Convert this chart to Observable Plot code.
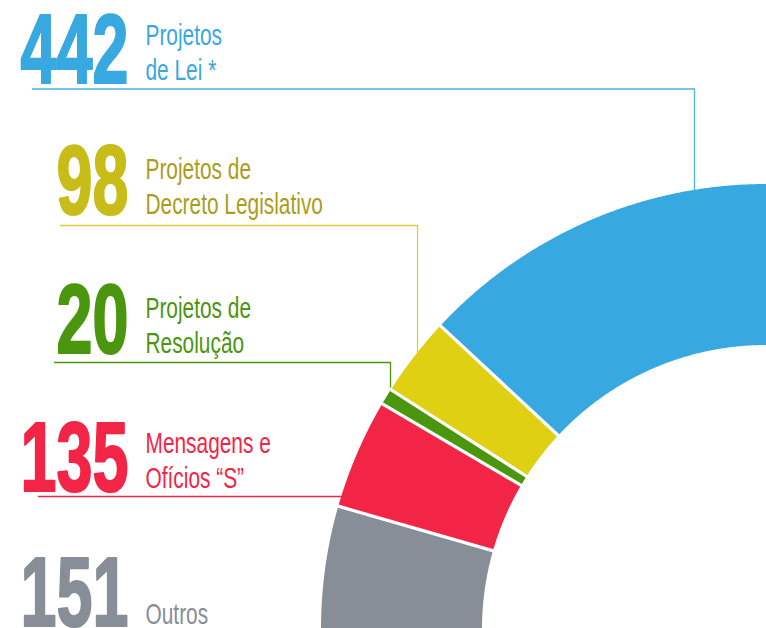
<!DOCTYPE html>
<html>
<head>
<meta charset="utf-8">
<script src="https://cdn.jsdelivr.net/npm/d3@7"></script>
<script src="https://cdn.jsdelivr.net/npm/@observablehq/plot@0.6"></script>
<style>
  html, body { margin: 0; padding: 0; background: #ffffff; }
  #chart svg { display: block; }
</style>
</head>
<body>
<div id="chart"></div>
<script>
// ---------- data ----------
const categories = ["Projetos de Lei", "Projetos de Decreto Legislativo", "Projetos de Resolução", "Mensagens e Ofícios “S”", "Outros"];
const values = [442, 98, 20, 135, 151];
const labelLine1 = ["Projetos", "Projetos de", "Projetos de", "Mensagens e", ""];
const labelLine2 = ["de Lei *", "Decreto Legislativo", "Resolução", "Ofícios “S”", "Outros"];

// ---------- styles ----------
const segmentColors = ["#37a8e0", "#e0d014", "#4b960f", "#f32547", "#878e97"];
const numberColors  = ["#38a8e0", "#c8bc18", "#4b960f", "#f32547", "#878e97"];
const textColors    = ["#38a8e0", "#ab9d1c", "#4b960f", "#f32547", "#878e97"];
const lineColors    = ["#4ab4e4", "#dccf3a", "#4b960f", "#f32547", null];

// ---------- layout (pixels) ----------
const W = 766, H = 628;
const CX = 766, CY = 629, R_OUT = 445, R_IN = 284;
const numberRight = 128, labelLeft = 145;
const numberBaseline = [82, 213, 352, 490, 625];
const labelBaseline  = [79, 213, 352, 487, 623];
const leaderY     = [88.5, 225, 362, 496, null];
const leaderStart = [32, 60, 54, 38, null];
const leaderDropX = [694, 417, 390, null, null]; // null => line runs horizontally into the arc

// unit coordinates: centre of the ring at (0,0), outer radius = 1
const ux = px => (px - CX) / R_OUT;
const uy = py => (CY - py) / R_OUT;
const k = R_IN / R_OUT;

// ---------- ring segments (quarter ring, stacked from the left horizontal up to the top) ----------
const total = d3.sum(values);
const order = d3.range(values.length).reverse(); // "Outros" starts at the bottom
let acc = 0;
const segs = [];
for (const i of order) {
  const a0 = acc / total * Math.PI / 2;
  acc += values[i];
  const a1 = acc / total * Math.PI / 2;
  segs.push({i, a0, a1});
}
const ringPts = [];
for (const s of segs) {
  const n = Math.max(4, Math.ceil((s.a1 - s.a0) / (Math.PI / 900)));
  for (let j = 0; j <= n; j++) {
    const t = s.a0 + (s.a1 - s.a0) * j / n;
    ringPts.push({cat: categories[s.i], x1: -Math.cos(t), y1: Math.sin(t), x2: -k * Math.cos(t), y2: k * Math.sin(t)});
  }
}
const boundaries = segs.slice(1).map(s => s.a0);

// ---------- leader lines ----------
const leaderPts = [];
categories.forEach((c, i) => {
  if (leaderY[i] == null) return;
  const y = uy(leaderY[i]);
  leaderPts.push({cat: c, x: ux(leaderStart[i]), y});
  if (leaderDropX[i] != null) {
    const x = ux(leaderDropX[i]);
    leaderPts.push({cat: c, x, y});
    leaderPts.push({cat: c, x, y: Math.sqrt(1 - x * x)});
  } else {
    leaderPts.push({cat: c, x: -Math.sqrt(1 - y * y), y});
  }
});

// ---------- label table ----------
const labels = categories.map((c, i) => ({
  cat: c,
  num: String(values[i]),
  text: labelLine1[i] ? labelLine1[i] + "\n" + labelLine2[i] : labelLine2[i],
  nx: ux(numberRight), ny: uy(numberBaseline[i]),
  lx: ux(labelLeft), ly: uy(labelBaseline[i])
}));

const colorScale = {domain: categories, range: segmentColors};
const font = "'Liberation Sans', Arial, sans-serif";

const chart = Plot.plot({
  width: W,
  height: H,
  margin: 0,
  style: {background: "#ffffff"},
  x: {domain: [ux(0), ux(W)], range: [0, W], axis: null},
  y: {domain: [uy(H), uy(0)], range: [H, 0], axis: null},
  color: colorScale,
  marks: [
    Plot.line(leaderPts, {x: "x", y: "y", z: "cat", stroke: d => lineColors[categories.indexOf(d.cat)], strokeWidth: 1.3, curve: "linear"}),
    Plot.area(ringPts, {x1: "x1", y1: "y1", x2: "x2", y2: "y2", z: "cat", fill: "cat"}),
    Plot.link(boundaries, {
      x1: a => -(k - 0.02) * Math.cos(a), y1: a => (k - 0.02) * Math.sin(a),
      x2: a => -1.02 * Math.cos(a), y2: a => 1.02 * Math.sin(a),
      stroke: "#ffffff", strokeWidth: 3.2
    }),
    Plot.text(labels, {
      x: "nx", y: "ny", text: "num",
      fill: d => numberColors[categories.indexOf(d.cat)],
      stroke: d => numberColors[categories.indexOf(d.cat)], strokeWidth: 2.2,
      fontSize: 98, fontWeight: "bold", fontFamily: font,
      textAnchor: "end", lineAnchor: "bottom"
    }),
    Plot.text(labels, {
      x: "lx", y: "ly", text: "text",
      fill: d => textColors[categories.indexOf(d.cat)],
      fontSize: 29, fontFamily: font, lineHeight: 1.2,
      textAnchor: "start", lineAnchor: "bottom"
    })
  ]
});

// condense the typefaces horizontally
const numberStrings = new Set(values.map(String));
chart.querySelectorAll("text").forEach(el => {
  const sx = numberStrings.has(el.textContent.trim()) ? 0.66 : 0.72;
  let t = el.getAttribute("transform");
  if (!t) {
    const x = el.getAttribute("x") || 0, y = el.getAttribute("y") || 0;
    el.removeAttribute("x"); el.removeAttribute("y");
    t = `translate(${x},${y})`;
  }
  el.setAttribute("transform", t + ` scale(${sx},1)`);
});

document.getElementById("chart").appendChild(chart);
</script>
</body>
</html>
